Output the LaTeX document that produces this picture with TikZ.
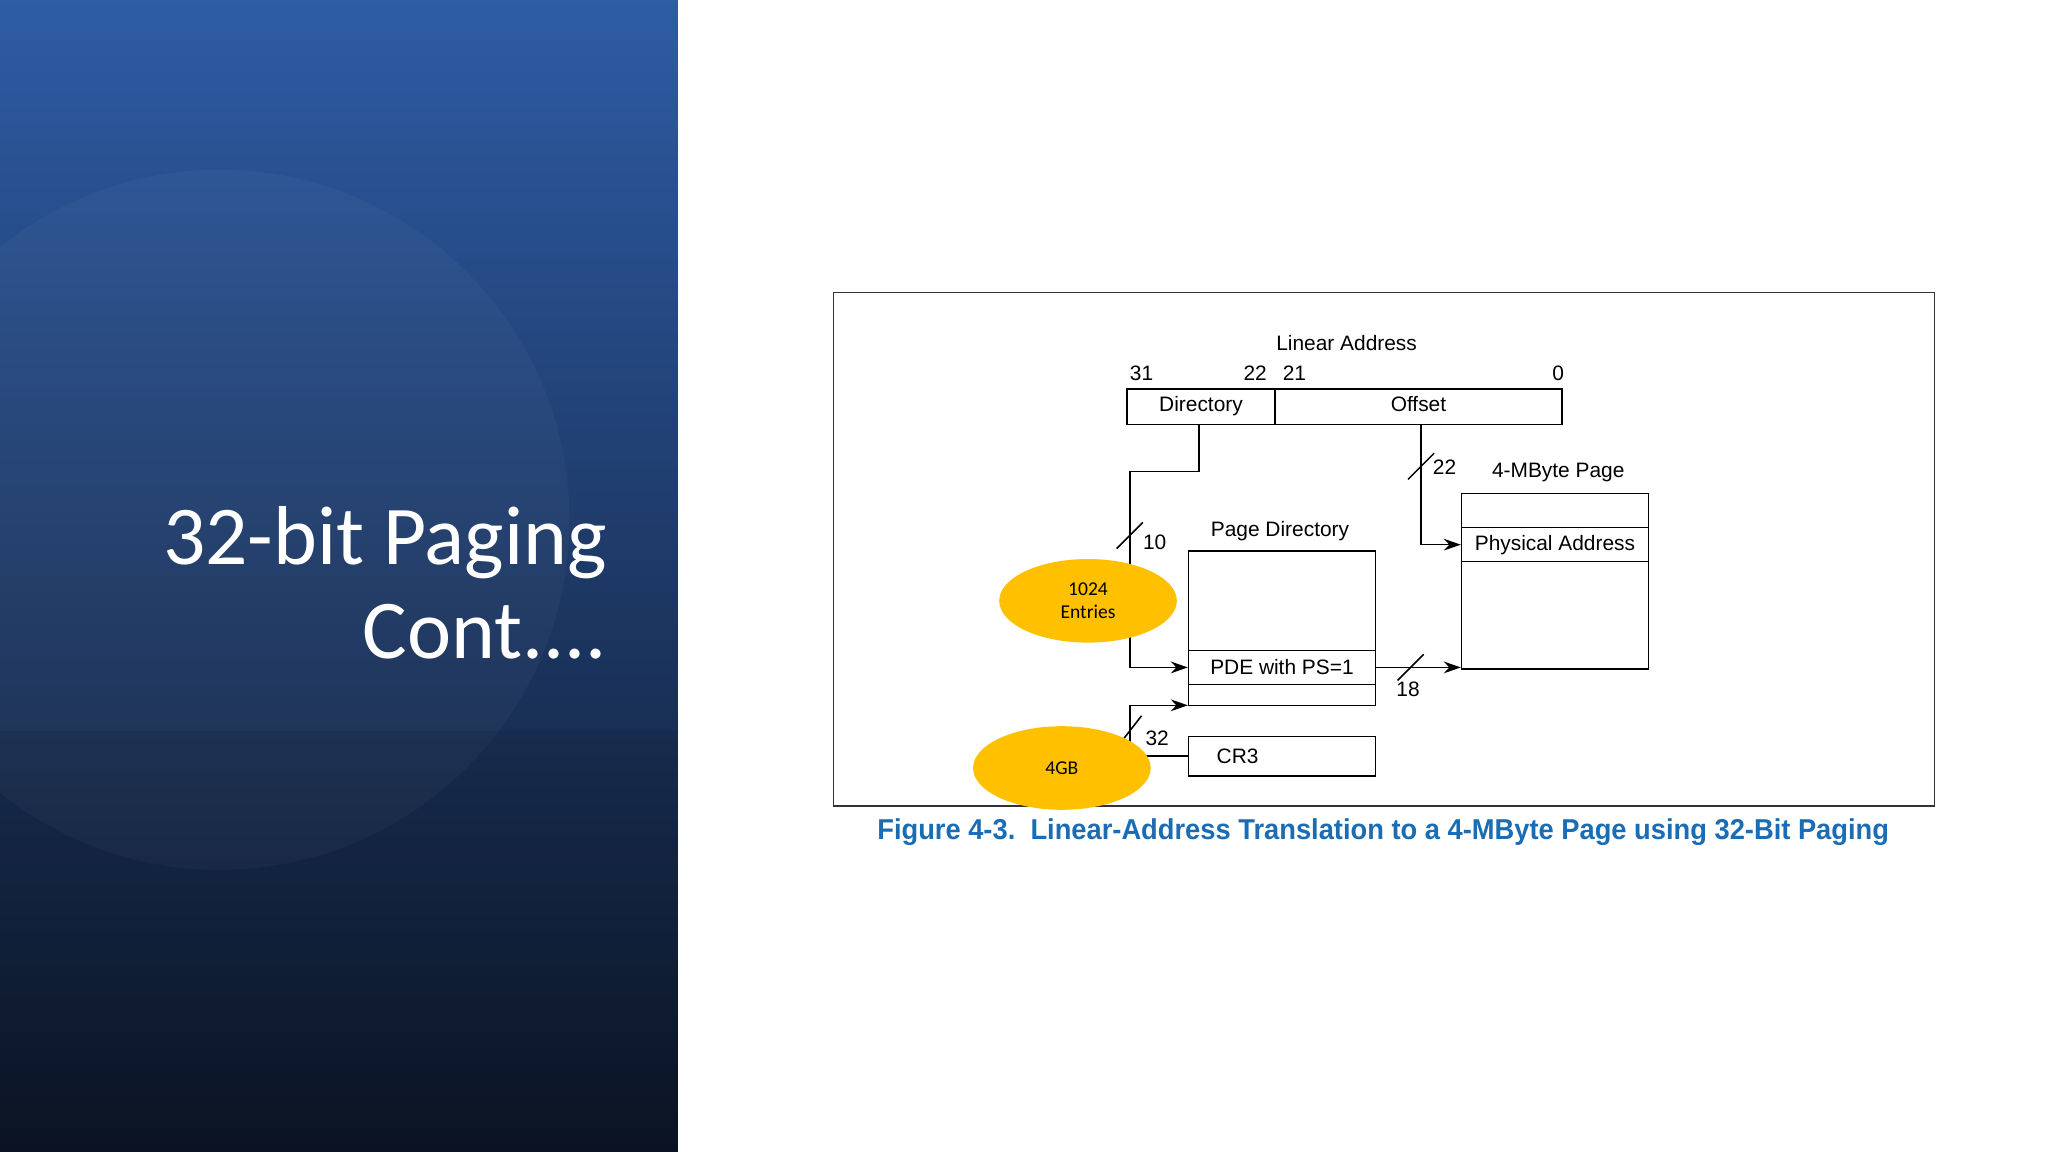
\documentclass[tikz,border=0pt]{standalone}
\usepackage{fontspec}
\setmainfont{Liberation Sans}
\newfontfamily\slidefont{Carlito}
\usetikzlibrary{arrows.meta,positioning,shapes.geometric}
\definecolor{navytop}{HTML}{2E5CA5}
\definecolor{navybot}{HTML}{0C1526}
\definecolor{gold}{HTML}{FFC000}
\definecolor{capblue}{HTML}{1A6DB5}

\begin{document}
\begin{tikzpicture}[x=1pt, y=-1pt, >={Stealth[length=13pt,width=9pt]},
  box/.style={draw, line width=1.2pt, inner sep=0pt},
  lbl/.style={font=\fontsize{16}{18}\selectfont},
  wire/.style={line width=1.2pt},
  blob/.style={ellipse, fill=gold, minimum width=136pt, minimum height=64pt,
    font=\slidefont\fontsize{15}{18}\selectfont, align=center}]
  \useasboundingbox (0,0) rectangle (1568,882);
  % The title panel
  \shade[top color=navytop, bottom color=navybot, middle color=navytop!50!navybot]
    (0,0) rectangle (519,882);
  \begin{scope}
    \clip (0,0) rectangle (519,882);
    \fill[white, opacity=0.03] (168,398) circle (268);
    \fill[black, opacity=0.08] (0,560) rectangle (519,882);
  \end{scope}
  \node[anchor=east, text=white, align=right,
    font=\slidefont\fontsize{64}{72}\selectfont] (title) at (468,446)
    {32-bit Paging\\Cont....};

  % The figure frame
  \draw[line width=1.2pt, black!80] (638,224) rectangle (1481,617);

  % Linear address
  \node[lbl] (la) at (1031,263) {Linear Address};
  \node[lbl] (b31) at (874,286) {31};
  \node[lbl] (b22) at (961,286) {22};
  \node[lbl] (b21) at (991,286) {21};
  \node[lbl] (b0) at (1193,286) {0};
  \node[box, lbl, minimum width=113pt, minimum height=27pt] (dir) at (919.5,311.5) {Directory\strut};
  \node[box, lbl, minimum width=220pt, minimum height=27pt] (off) at (1086,311.5) {Offset\strut};

  % Page directory
  \node[lbl] (pdl) at (980,407) {Page Directory};
  \node[box, minimum width=143pt, minimum height=118pt] (pd) at (981.5,481) {};
  \node[box, lbl, minimum width=143pt, minimum height=26pt] (pde) at (981.5,511) {PDE with PS=1};

  % The page
  \node[lbl] (pgl) at (1193,362) {4-MByte Page};
  \node[box, minimum width=143pt, minimum height=134pt] (page) at (1190.5,445) {};
  \node[box, lbl, minimum width=143pt, minimum height=26pt] (phys) at (1190.5,417) {Physical Address};

  % CR3
  \node[box, lbl, minimum width=143pt, minimum height=30pt, text width=100pt] (cr3) at (981.5,579) {CR3};

  % Wires
  \coordinate (d0) at (918,325);
  \coordinate (d1) at (865,361);
  \coordinate (o0) at (1088,325);
  \coordinate (c1) at (865,540);
  \draw[wire, ->] (d0) |- (d1) |- (pde.west);
  \draw[wire, ->] (o0) |- (phys.west);
  \draw[wire, ->] (pde.east) -- (pde.east -| page.west);
  \draw[wire, ->] (cr3.west) -| (c1) -- (c1 -| pd.west);

  % Bus widths
  \draw[wire] (855,420) -- (875,400);
  \node[lbl] (w10) at (884,415) {10};
  \draw[wire] (1078,367) -- (1098,347);
  \node[lbl] (w22) at (1106,358) {22};
  \draw[wire] (1070,521) -- (1090,501);
  \node[lbl] (w18) at (1078,528) {18};
  \draw[wire] (860,566) -- (874,548);
  \node[lbl] (w32) at (886,565) {32};

  % Callouts
  \node[blob] (ent) at (833,460) {1024\\Entries};
  \node[blob] (gb) at (813,588) {4GB};

  % Caption
  \node[text=capblue, font=\bfseries\fontsize{22}{24}\selectfont] (cap) at (1059,637)
    {\scalebox{0.95}[1]{Figure 4-3.\ \ Linear-Address Translation to a 4-MByte Page using 32-Bit Paging}};
\end{tikzpicture}
\end{document}
